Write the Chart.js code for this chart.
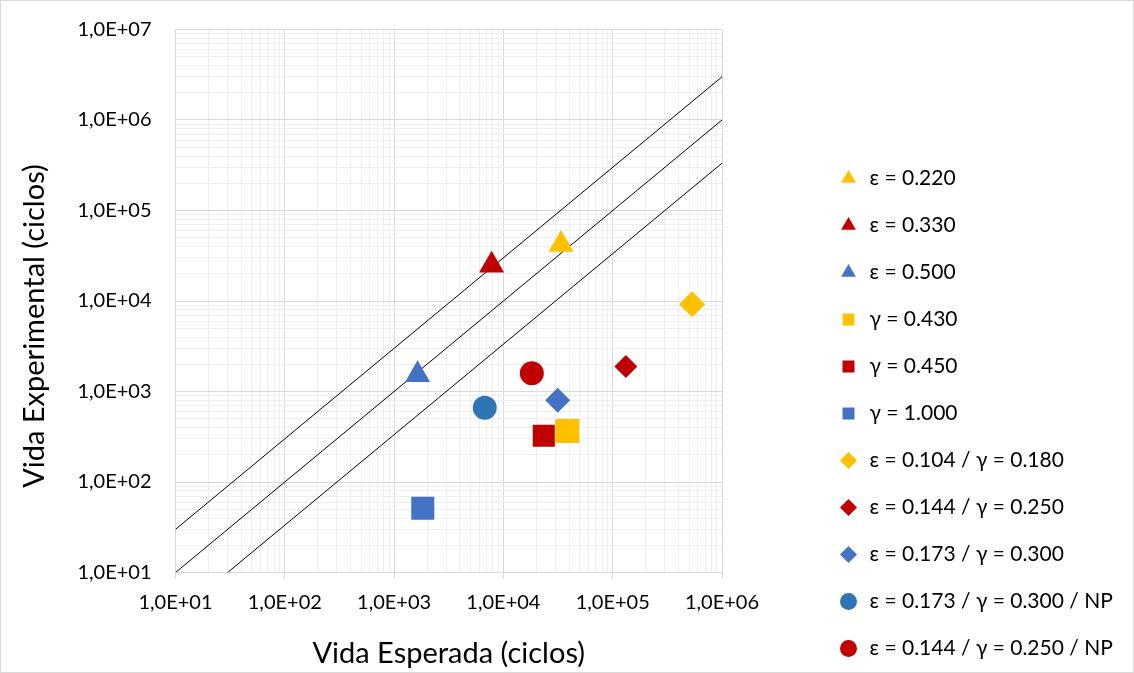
<!DOCTYPE html>
<html>
<head>
<meta charset="utf-8">
<script src="https://cdn.jsdelivr.net/npm/chart.js@4.4.1/dist/chart.umd.min.js"></script>
<style>
    html, body { margin: 0; padding: 0; background: #fff; }
    #wrap { position: relative; width: 1134px; height: 673px; }
    #wrap::after { content: ''; position: absolute; left: 0; top: 0; right: 0; bottom: 0; border: 1px solid #d9d9d9; pointer-events: none; }
</style>
</head>
<body>
<div id="wrap"><canvas id="chart"></canvas></div>
<script>
const X_DECADES = [1e1, 1e2, 1e3, 1e4, 1e5, 1e6];
const Y_DECADES = [1e1, 1e2, 1e3, 1e4, 1e5, 1e6, 1e7];
const MINOR_STEPS = [2, 3, 4, 5, 6, 7, 8, 9];
const X_TICK_LABELS = ['1,0E+01', '1,0E+02', '1,0E+03', '1,0E+04', '1,0E+05', '1,0E+06'];
const Y_TICK_LABELS = ['1,0E+01', '1,0E+02', '1,0E+03', '1,0E+04', '1,0E+05', '1,0E+06', '1,0E+07'];

const SERIES_LABELS = [
    'ε = 0.220',
    'ε = 0.330',
    'ε = 0.500',
    'γ = 0.430',
    'γ = 0.450',
    'γ = 1.000',
    'ε = 0.104 / γ = 0.180',
    'ε = 0.144 / γ = 0.250',
    'ε = 0.173 / γ = 0.300',
    'ε = 0.173 / γ = 0.300 / NP',
    'ε = 0.144 / γ = 0.250 / NP'
];
const EXPECTED_LIFE = [3.37e4, 7.8e3, 1.64e3, 3.85e4, 2.34e4, 1.83e3, 5.33e5, 1.32e5, 3.14e4, 6.75e3, 1.82e4];
const EXPERIMENTAL_LIFE = [4.2e4, 2.48e4, 1.53e3, 366, 324, 51.2, 9.2e3, 1.89e3, 800, 662, 1.59e3];

// scatter band lines: 3x, 1x and 1/3x
const BAND_UPPER = [[10, 30], [1e6, 3e6]];
const BAND_MIDDLE = [[10, 10], [1e6, 1e6]];
const BAND_LOWER = [[30, 10], [1e6, 333333]];

const YELLOW = '#FFC000';
const RED = '#C00000';
const BLUE = '#4472C4';
const BLUE2 = '#2E75B6';
const SERIES_COLORS = [YELLOW, RED, BLUE, YELLOW, RED, BLUE, YELLOW, RED, BLUE, BLUE2, RED];
const SERIES_SHAPES = ['triangle', 'triangle', 'triangle', 'rect', 'rect', 'rect',
    'rectRot', 'rectRot', 'rectRot', 'circle', 'circle'];
const SERIES_RADIUS = [14.5, 14.5, 14.5, 17, 15.6, 16.3, 13, 11.5, 12.5, 12, 12];

const FONT = 'Lato';
const MAJOR_GRID = '#d9d9d9';
const MINOR_GRID = '#eeeeee';

function buildTicks(decades) {
    let ticks = [];
    for (let i = 0; i < decades.length; i++) {
        ticks.push({value: decades[i], major: true});
        if (i < decades.length - 1) {
            for (let m of MINOR_STEPS) {
                ticks.push({value: m * decades[i], major: false});
            }
        }
    }
    return ticks;
}

function bandDataset(points) {
    return {
        data: points.map(p => ({x: p[0], y: p[1]})),
        showLine: true,
        borderColor: '#000',
        borderWidth: 1,
        pointRadius: 0,
        pointHoverRadius: 0,
        fill: false
    };
}

let datasets = [];
for (let i = 0; i < SERIES_LABELS.length; i++) {
    datasets.push({
        label: SERIES_LABELS[i],
        data: [{x: EXPECTED_LIFE[i], y: EXPERIMENTAL_LIFE[i]}],
        pointStyle: SERIES_SHAPES[i],
        pointRadius: SERIES_RADIUS[i],
        pointHoverRadius: SERIES_RADIUS[i],
        backgroundColor: SERIES_COLORS[i],
        borderColor: SERIES_COLORS[i],
        borderWidth: 0
    });
}
datasets.push(bandDataset(BAND_UPPER));
datasets.push(bandDataset(BAND_MIDDLE));
datasets.push(bandDataset(BAND_LOWER));

// legend sits in the right-hand area like the spreadsheet one
const legendPlace = {
    id: 'legendPlace',
    beforeLayout(chart) {
        const lg = chart.legend;
        if (lg && !lg._patched) {
            const fit = lg.fit;
            lg.fit = function () {
                fit.call(this);
                this.width = 412;
            };
            lg._patched = true;
        }
        const ys = chart.scales.y;
        if (ys && !ys._patched) {
            const drawTitle = ys.drawTitle;
            ys.drawTitle = function () {
                this.ctx.save();
                this.ctx.translate(0, 25);
                drawTitle.call(this);
                this.ctx.restore();
            };
            ys._patched = true;
        }
    },
    afterLayout(chart) {
        const lg = chart.legend;
        const w = lg.right - lg.left;
        const h = lg.bottom - lg.top;
        lg.left = 812;
        lg.right = 812 + w;
        lg.top = 142;
        lg.bottom = 142 + h;
    }
};

const ctx = document.getElementById('chart').getContext('2d');
const chart = new Chart(ctx, {
    type: 'scatter',
    data: {datasets: datasets},
    options: {
        responsive: true,
        maintainAspectRatio: false,
        animation: false,
        layout: {padding: {top: 29.5, left: 0, right: 0, bottom: 0}},
        plugins: {
            tooltip: {enabled: false},
            legend: {
                position: 'right',
                align: 'start',
                filter: item => item.datasetIndex < SERIES_LABELS.length,
                labels: {
                    usePointStyle: true,
                    boxWidth: 21,
                    boxHeight: 12,
                    padding: 26,
                    color: '#000',
                    font: {family: FONT, size: 21}
                }
            }
        },
        scales: {
            x: {
                type: 'logarithmic',
                min: 10,
                max: 1e6,
                afterBuildTicks: scale => { scale.ticks = buildTicks(X_DECADES); },
                afterFit: scale => { scale.height = 100.5; },
                grid: {
                    color: c => (c.tick && c.tick.major) ? MAJOR_GRID : MINOR_GRID,
                    tickColor: c => (c.tick && c.tick.major) ? MAJOR_GRID : 'rgba(0,0,0,0)',
                    tickLength: 6,
                    lineWidth: 1
                },
                border: {color: MAJOR_GRID},
                ticks: {
                    autoSkip: false,
                    maxRotation: 0,
                    padding: 12,
                    color: '#000',
                    font: {family: FONT, size: 20},
                    callback: value => {
                        const i = X_DECADES.indexOf(value);
                        return i >= 0 ? X_TICK_LABELS[i] : '';
                    }
                },
                title: {
                    display: true,
                    text: 'Vida Esperada (ciclos)',
                    color: '#000',
                    font: {family: FONT, size: 29},
                    padding: {top: 0, bottom: 2}
                }
            },
            y: {
                type: 'logarithmic',
                min: 10,
                max: 1e7,
                afterBuildTicks: scale => { scale.ticks = buildTicks(Y_DECADES); },
                afterFit: scale => {
                    scale.width = 175.5;
                    scale.paddingTop = 12;
                    scale.paddingBottom = 12;
                },
                grid: {
                    color: c => (c.tick && c.tick.major) ? MAJOR_GRID : MINOR_GRID,
                    drawTicks: false,
                    lineWidth: 1
                },
                border: {color: MAJOR_GRID},
                ticks: {
                    autoSkip: false,
                    padding: 24,
                    color: '#000',
                    font: {family: FONT, size: 20},
                    callback: value => {
                        const i = Y_DECADES.indexOf(value);
                        return i >= 0 ? Y_TICK_LABELS[i] : '';
                    }
                },
                title: {
                    display: true,
                    text: 'Vida Experimental (ciclos)',
                    color: '#000',
                    font: {family: FONT, size: 29},
                    padding: {top: 17, bottom: 0}
                }
            }
        }
    },
    plugins: [legendPlace]
});
</script>
</body>
</html>
